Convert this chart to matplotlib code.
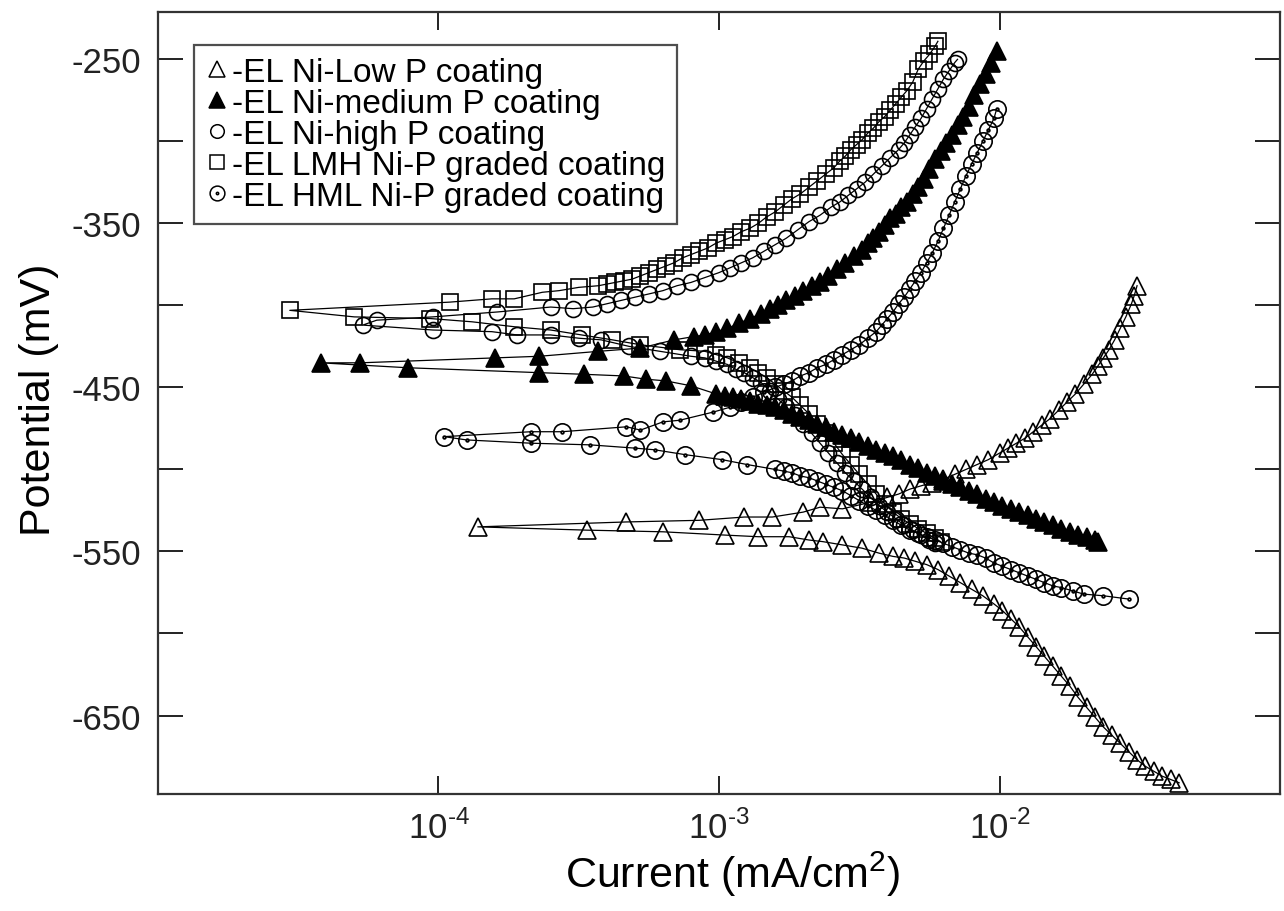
import matplotlib
matplotlib.use("Agg")
import matplotlib.pyplot as plt
import numpy as np
from matplotlib.path import Path
from matplotlib.lines import Line2D
from matplotlib.ticker import FuncFormatter, NullLocator

plt.rcParams["font.family"] = ["Liberation Sans", "DejaVu Sans"]
plt.rcParams["mathtext.fontset"] = "custom"
plt.rcParams["mathtext.rm"] = "Liberation Sans"
plt.rcParams["axes.unicode_minus"] = False

# Points as (log10 current in mA/cm2, potential in mV),
# each branch listed from the corrosion potential outwards.
lowp_cat = [(-3.86, -535), (-3.47, -537), (-3.20, -538), (-2.98, -540), (-2.86, -541),
            (-2.75, -541), (-2.68, -543), (-2.63, -544), (-2.56, -546), (-2.49, -548),
            (-2.43, -551), (-2.38, -553), (-2.34, -554), (-2.30, -556), (-2.26, -558),
            (-2.22, -561), (-2.18, -565), (-2.14, -569), (-2.10, -573), (-2.06, -577),
            (-2.02, -582), (-1.99, -586), (-1.96, -591), (-1.93, -596), (-1.90, -602),
            (-1.87, -608), (-1.84, -614), (-1.81, -620), (-1.78, -626), (-1.75, -632),
            (-1.72, -639), (-1.69, -645), (-1.66, -651), (-1.63, -657), (-1.60, -662),
            (-1.57, -667), (-1.54, -672), (-1.51, -677), (-1.48, -681), (-1.45, -684),
            (-1.42, -687), (-1.39, -689), (-1.36, -691)]
lowp_ano = [(-3.86, -535), (-3.33, -532), (-3.07, -531), (-2.91, -529), (-2.81, -529),
            (-2.70, -526), (-2.64, -523), (-2.56, -524), (-2.46, -520), (-2.40, -517),
            (-2.36, -515), (-2.32, -512), (-2.28, -510), (-2.24, -508), (-2.20, -506),
            (-2.16, -503), (-2.12, -500), (-2.08, -497), (-2.04, -494), (-2.00, -490),
            (-1.97, -487), (-1.94, -484), (-1.91, -481), (-1.88, -477), (-1.85, -473),
            (-1.82, -469), (-1.79, -464), (-1.76, -459), (-1.73, -454), (-1.70, -448),
            (-1.67, -442), (-1.65, -437), (-1.63, -432), (-1.61, -427), (-1.59, -421),
            (-1.57, -414), (-1.55, -407), (-1.53, -399), (-1.52, -394), (-1.51, -388)]

med_cat = [(-4.42, -435), (-4.11, -438), (-3.64, -441), (-3.48, -442), (-3.34, -443),
           (-3.26, -445), (-3.19, -446), (-3.10, -449), (-3.01, -454), (-2.98, -455),
           (-2.95, -456), (-2.92, -457), (-2.89, -458), (-2.86, -460), (-2.83, -461),
           (-2.80, -462), (-2.77, -464), (-2.74, -466), (-2.71, -468), (-2.68, -470),
           (-2.65, -472), (-2.62, -474), (-2.59, -477), (-2.56, -479), (-2.53, -481),
           (-2.50, -483), (-2.47, -486), (-2.44, -488), (-2.41, -490), (-2.38, -492),
           (-2.35, -494), (-2.32, -497), (-2.29, -499), (-2.26, -502), (-2.23, -504),
           (-2.20, -507), (-2.17, -509), (-2.14, -511), (-2.11, -513), (-2.08, -515),
           (-2.05, -518), (-2.02, -520), (-1.99, -522), (-1.96, -524), (-1.93, -526),
           (-1.90, -528), (-1.87, -530), (-1.84, -532), (-1.81, -534), (-1.78, -536),
           (-1.75, -538), (-1.72, -540), (-1.69, -541), (-1.66, -543), (-1.65, -544)]
med_ano = [(-4.42, -435), (-4.28, -435), (-3.80, -432), (-3.64, -431), (-3.43, -428),
           (-3.28, -426), (-3.16, -421), (-3.09, -419), (-3.05, -418), (-3.01, -416),
           (-2.97, -414), (-2.93, -411), (-2.89, -408), (-2.85, -405), (-2.82, -402),
           (-2.79, -400), (-2.76, -397), (-2.73, -394), (-2.70, -391), (-2.67, -388),
           (-2.64, -386), (-2.61, -382), (-2.58, -378), (-2.55, -374), (-2.52, -370),
           (-2.49, -366), (-2.47, -362), (-2.45, -359), (-2.43, -355), (-2.41, -351),
           (-2.39, -347), (-2.37, -344), (-2.35, -340), (-2.33, -337), (-2.31, -332),
           (-2.29, -328), (-2.27, -323), (-2.25, -317), (-2.23, -311), (-2.21, -306),
           (-2.19, -301), (-2.17, -296), (-2.15, -290), (-2.13, -285), (-2.11, -279),
           (-2.09, -272), (-2.07, -265), (-2.05, -259), (-2.03, -252), (-2.01, -245)]

highp_cat = [(-4.27, -412), (-4.02, -415), (-3.81, -416), (-3.72, -418), (-3.60, -418),
             (-3.50, -420), (-3.42, -421), (-3.32, -425), (-3.21, -428), (-3.10, -431),
             (-3.05, -432), (-3.01, -434), (-2.97, -436), (-2.94, -439), (-2.91, -441),
             (-2.88, -444), (-2.85, -447), (-2.82, -452), (-2.79, -457), (-2.76, -462),
             (-2.73, -467), (-2.70, -472), (-2.67, -478), (-2.64, -484), (-2.61, -490),
             (-2.58, -496), (-2.55, -502), (-2.52, -507), (-2.49, -512), (-2.46, -517),
             (-2.43, -522), (-2.40, -526), (-2.37, -530), (-2.34, -534), (-2.31, -537),
             (-2.28, -540), (-2.25, -543), (-2.23, -545)]
highp_ano = [(-4.27, -412), (-4.22, -409), (-4.02, -407), (-3.79, -404), (-3.60, -401),
             (-3.52, -402), (-3.45, -401), (-3.40, -399), (-3.35, -397), (-3.30, -395),
             (-3.25, -393), (-3.20, -391), (-3.15, -388), (-3.10, -386), (-3.05, -383),
             (-3.00, -380), (-2.96, -377), (-2.92, -374), (-2.88, -371), (-2.84, -367),
             (-2.80, -363), (-2.76, -359), (-2.72, -354), (-2.68, -349), (-2.64, -345),
             (-2.60, -340), (-2.57, -337), (-2.54, -333), (-2.51, -329), (-2.48, -325),
             (-2.45, -320), (-2.42, -315), (-2.39, -310), (-2.36, -305), (-2.34, -301),
             (-2.32, -296), (-2.30, -291), (-2.28, -286), (-2.26, -280), (-2.24, -274),
             (-2.22, -268), (-2.20, -262), (-2.18, -257), (-2.16, -252), (-2.15, -250)]

lmh_cat = [(-4.53, -403), (-4.30, -407), (-4.03, -408), (-3.88, -410), (-3.73, -413),
           (-3.60, -415), (-3.49, -418), (-3.38, -421), (-3.28, -424), (-3.14, -427),
           (-3.05, -428), (-3.01, -430), (-2.97, -432), (-2.93, -435), (-2.89, -438),
           (-2.86, -441), (-2.83, -444), (-2.80, -448), (-2.77, -452), (-2.74, -456),
           (-2.71, -461), (-2.68, -466), (-2.65, -472), (-2.62, -478), (-2.59, -484),
           (-2.56, -491), (-2.53, -497), (-2.50, -503), (-2.47, -509), (-2.44, -515),
           (-2.41, -521), (-2.38, -526), (-2.35, -530), (-2.32, -533), (-2.29, -536),
           (-2.26, -539), (-2.23, -542), (-2.21, -544)]
lmh_ano = [(-4.53, -403), (-3.96, -398), (-3.81, -396), (-3.73, -396), (-3.63, -392),
           (-3.57, -391), (-3.50, -389), (-3.43, -388), (-3.40, -387), (-3.37, -386),
           (-3.34, -385), (-3.31, -384), (-3.28, -382), (-3.25, -380), (-3.22, -378),
           (-3.19, -376), (-3.16, -374), (-3.13, -371), (-3.10, -369), (-3.07, -367),
           (-3.04, -365), (-3.01, -362), (-2.98, -360), (-2.95, -358), (-2.92, -355),
           (-2.89, -353), (-2.86, -350), (-2.83, -346), (-2.80, -343), (-2.77, -339),
           (-2.74, -335), (-2.71, -332), (-2.68, -328), (-2.65, -324), (-2.62, -320),
           (-2.59, -316), (-2.57, -312), (-2.55, -309), (-2.53, -305), (-2.51, -302),
           (-2.49, -299), (-2.47, -295), (-2.45, -292), (-2.43, -288), (-2.41, -285),
           (-2.39, -281), (-2.37, -277), (-2.35, -273), (-2.33, -269), (-2.31, -264),
           (-2.29, -256), (-2.27, -251), (-2.25, -247), (-2.23, -242), (-2.22, -239)]

hml_cat = [(-3.98, -480), (-3.90, -482), (-3.67, -484), (-3.46, -485), (-3.30, -487),
           (-3.23, -488), (-3.12, -491), (-2.99, -494), (-2.90, -497), (-2.80, -500),
           (-2.77, -501), (-2.74, -502), (-2.71, -504), (-2.68, -505), (-2.65, -507),
           (-2.62, -509), (-2.59, -511), (-2.56, -513), (-2.53, -516), (-2.50, -519),
           (-2.47, -522), (-2.44, -525), (-2.41, -528), (-2.38, -531), (-2.35, -534),
           (-2.32, -537), (-2.29, -539), (-2.26, -541), (-2.23, -543), (-2.20, -545),
           (-2.17, -547), (-2.14, -549), (-2.11, -551), (-2.08, -552), (-2.05, -554),
           (-2.02, -557), (-1.99, -559), (-1.96, -561), (-1.93, -563), (-1.90, -565),
           (-1.87, -567), (-1.84, -569), (-1.81, -571), (-1.78, -572), (-1.74, -574),
           (-1.70, -576), (-1.63, -577), (-1.54, -579)]
hml_ano = [(-3.98, -480), (-3.67, -477), (-3.56, -477), (-3.33, -474), (-3.28, -476),
           (-3.20, -471), (-3.14, -470), (-3.02, -465), (-2.96, -462), (-2.92, -459),
           (-2.88, -456), (-2.84, -453), (-2.80, -450), (-2.77, -448), (-2.74, -446),
           (-2.71, -443), (-2.68, -441), (-2.65, -438), (-2.62, -436), (-2.59, -433),
           (-2.56, -430), (-2.53, -427), (-2.50, -424), (-2.47, -420), (-2.44, -416),
           (-2.42, -412), (-2.40, -408), (-2.38, -404), (-2.36, -399), (-2.34, -395),
           (-2.32, -390), (-2.30, -385), (-2.28, -380), (-2.26, -374), (-2.24, -368),
           (-2.22, -361), (-2.20, -353), (-2.18, -345), (-2.16, -337), (-2.14, -329),
           (-2.12, -321), (-2.10, -314), (-2.08, -307), (-2.06, -300), (-2.04, -293),
           (-2.02, -286), (-2.01, -280)]

labels = ["-EL Ni-Low P coating", "-EL Ni-medium P coating", "-EL Ni-high P coating",
          "-EL LMH Ni-P graded coating", "-EL HML Ni-P graded coating"]

# circle with a dot in the middle
dot_circle = Path.make_compound_path(Path.unit_circle(), Path.circle((0, 0), 0.16))


def sweep(cat, ano):
    # the scan runs from the cathodic end through Ecorr to the anodic end
    pts = np.array(cat[::-1] + ano[1:], dtype=float)
    return 10.0 ** pts[:, 0], pts[:, 1]


series = [
    (sweep(lmh_cat, lmh_ano), dict(marker="s", ms=12, mfc="none"), 3),
    (sweep(highp_cat, highp_ano), dict(marker="o", ms=11.5, mfc="none"), 2),
    (sweep(hml_cat, hml_ano), dict(marker=dot_circle, ms=12.5, mfc="none"), 4),
    (sweep(lowp_cat, lowp_ano), dict(marker="^", ms=13.5, mfc="none"), 0),
    (sweep(med_cat, med_ano), dict(marker="^", ms=13.5, mfc="black"), 1),
]

fig = plt.figure(figsize=(12.84, 9.12), dpi=100)
ax = fig.add_axes([0.123, 0.128, 0.874, 0.858])

handles = [None] * 5
for (x, y), style, idx in series:
    (h,) = ax.plot(x, y, color="black", lw=0.9, mec="black", mew=1.2, **style)
    handles[idx] = h

ax.set_xscale("log")
ax.set_xlim(1e-5, 1e-1)
ax.set_ylim(-698, -221)
ax.set_xticks([1e-4, 1e-3, 1e-2])
ax.xaxis.set_minor_locator(NullLocator())
ax.xaxis.set_major_formatter(FuncFormatter(
    lambda v, _: "10$^{\\text{-%d}}$" % round(-np.log10(v))))
ax.set_yticks([-650, -550, -450, -350, -250])
ax.set_yticks([-600, -500, -400, -300], minor=True)

ax.tick_params(which="both", direction="in", top=True, right=True, width=1.4,
               labelsize=25, colors="#222222")
ax.tick_params(axis="y", which="both", length=18, pad=12)
ax.tick_params(axis="x", which="major", length=13, pad=11)
for s in ax.spines.values():
    s.set_linewidth(1.6)
    s.set_color("#333333")

ax.set_xlabel("Current (mA/cm$^{\\mathrm{2}}$)", fontsize=31)
ax.set_ylabel("Potential (mV)", fontsize=31)
ax.xaxis.set_label_coords(0.512, -0.07)
ax.yaxis.set_label_coords(-0.088, 0.505)

legend_handles = [Line2D([], [], linestyle="none", marker=h.get_marker(),
                         ms=h.get_markersize() * 0.85, mfc=h.get_markerfacecolor(),
                         mec="black", mew=1.1) for h in handles]
leg = ax.legend(legend_handles, labels, loc="upper left", bbox_to_anchor=(0.032, 0.957),
                fontsize=24, frameon=True, fancybox=False, edgecolor="#222222",
                handlelength=0.7, handletextpad=0.1, labelspacing=0.0,
                borderpad=0.35, borderaxespad=0)
leg.get_frame().set_linewidth(1.6)

fig.savefig("out.png", dpi=100)
